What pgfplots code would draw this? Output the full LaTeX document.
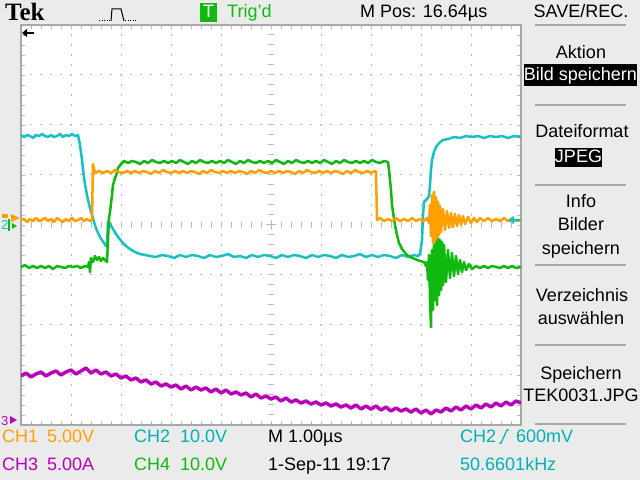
\documentclass[border=0pt]{standalone}
\usepackage{fontspec}
\setmainfont{Liberation Sans}
\newfontfamily\tekserif{Liberation Serif}
\usepackage{pgfplots}
\pgfplotsset{compat=1.18}
\usetikzlibrary{arrows.meta}
\definecolor{bgc}{HTML}{EBEBEB}
\definecolor{gridc}{HTML}{B8B8B8}
\definecolor{bordc}{HTML}{A8A8A8}
\definecolor{ch1}{HTML}{FFA000}
\definecolor{ch2}{HTML}{18C0C4}
\definecolor{ch2t}{HTML}{00B0B4}
\definecolor{ch3}{HTML}{B800B8}
\definecolor{ch4}{HTML}{10B810}
\newcommand\tf{\fontsize{18bp}{21bp}\selectfont}
\newcommand\mf{\fontsize{13bp}{15bp}\selectfont}

\begin{document}
\begin{tikzpicture}
\useasboundingbox (0,0) rectangle (640bp,480bp);
\fill[bgc] (0,0) rectangle (640bp,480bp);

% graticule (pixel coordinates, y downwards)
\begin{scope}[x=1bp,y=-1bp,yshift=480bp]
  \fill[white] (21,25) rectangle (521,425);
  \foreach \g in {71,121,171,221,321,371,421,471}
    \draw[gridc,line width=1bp,dash pattern=on 2bp off 8bp,dash phase=1bp] (\g,25) -- (\g,425);
  \foreach \g in {75,125,175,275,325,375}
    \draw[gridc,line width=1bp,dash pattern=on 2bp off 8bp,dash phase=1bp] (21,\g) -- (521,\g);
  \foreach \t in {35,45,...,415}
    \draw[gridc,line width=1bp] (268,\t) -- (274,\t);
  \foreach \t in {31,41,...,511}
    \draw[gridc,line width=1bp] (\t,222) -- (\t,228);
  \draw[gridc,line width=1bp] (266,225) -- (276,225) (271,220) -- (271,230);
\end{scope}

\begin{axis}[
    at={(21bp,55bp)}, anchor=south west,
    width=500bp, height=400bp, scale only axis,
    xmin=21, xmax=521, ymin=25, ymax=425, y dir=reverse,
    axis line style={draw=bordc, line width=2bp},
    xtick={21,71,...,521}, ytick={25,75,...,425},
    minor x tick num=4, minor y tick num=4,
    xticklabels={}, yticklabels={},
    tick align=inside, major tick length=4bp, minor tick length=4bp,
    every tick/.style={draw=gridc, line width=1bp},
]
% CH2 (cyan)
\addplot[ch2, line width=2.5bp, line join=round] coordinates {
(21,135)(24,137)(27,135)(30,136)(33,138)(36,135)(39,136)(42,134)(45,136)(48,137)
(51,135)(54,137)(57,136)(60,134)(63,137)(66,135)(69,136)(72,134)(75,136)(78,135)
(80,145)(82,160)(84,178)(86,190)(88,200)(90,208)(92,215)(94,222)(96,228)(98,233)
(100,237)(102,240)(104,243)(106,246)(107,245)(108,222)(110,224)(113,229)(116,234)
(119,238)(122,242)(126,246)(130,249)(135,252)(140,254)(145,255)(150,256)
(156,257)(162,255)(168,256)(174,258)(180,255)(186,257)(192,255)(198,256)(204,258)
(210,255)(216,257)(222,256)(228,254)(234,257)(240,256)(246,258)(252,255)(258,257)
(264,255)(270,256)(276,258)(282,255)(288,257)(294,255)(300,256)(306,258)(312,255)
(318,257)(324,255)(330,256)(336,258)(342,255)(348,257)(354,256)(360,254)(366,257)
(372,255)(378,257)(384,255)(390,256)(396,258)(402,255)(408,257)(414,255)(418,256)
(420,254)(422,240)(423,215)(424,202)(427,199)(429,196)(430,185)(431,170)(432,160)
(434,152)(436,147)(439,143)(443,140)(448,139)(454,137)(460,138)(466,136)(472,137)
(478,136)(484,138)(490,136)(496,137)(502,136)(508,138)(514,136)(521,137)
};
% CH3 (magenta)
\addplot[ch3, line width=3.5bp, line join=round] coordinates {
(21,376)(26,373)(31,377)(36,374)(41,372)(46,376)(51,373)(56,371)(61,375)(66,372)
(71,370)(76,374)(81,371)(86,368)(91,373)(96,370)(101,374)(106,372)(111,376)(116,374)
(121,378)(126,376)(131,380)(136,378)(141,382)(146,380)(151,384)(156,382)(161,386)
(166,384)(171,387)(176,385)(181,389)(186,386)(191,390)(196,387)(201,390)(206,388)
(211,392)(216,389)(221,393)(226,390)(231,394)(236,392)(241,395)(246,393)(251,397)
(256,394)(261,398)(266,396)(271,399)(276,397)(281,401)(286,398)(291,402)(296,400)
(301,403)(306,401)(311,404)(316,402)(321,405)(326,403)(331,406)(336,404)(341,407)
(346,405)(351,408)(356,405)(361,409)(366,406)(371,409)(376,406)(381,410)(386,407)
(391,411)(396,408)(401,411)(406,409)(411,412)(416,409)(421,413)(426,410)(431,414)
(436,410)(441,412)(446,408)(451,411)(456,407)(461,410)(466,406)(471,409)(476,405)
(481,408)(486,404)(491,407)(496,403)(501,406)(506,402)(511,405)(516,401)(521,403)
};
% CH4 (green)
\addplot[ch4, line width=2.5bp, line join=round] coordinates {
(21,267)(25,265)(29,268)(33,266)(37,268)(41,266)(45,268)(49,266)(53,269)(57,266)
(61,267)(65,268)(69,266)(73,267)(77,266)(81,268)(85,266)(88,267)(89,262)(90,272)
(91,258)(93,262)(95,256)(97,260)(99,257)(101,261)(103,258)(105,260)(107,262)
(108,240)(109,218)(110,212)(112,195)(113,185)(115,178)(116,176)
(118,168)(121,164)(124,161)(128,163)(132,161)(136,162)(140,164)(144,161)(148,163)
(152,160)(156,162)(160,163)(164,161)(168,163)(172,161)(176,163)(180,160)(184,162)
(188,164)(192,161)(196,163)(200,160)(204,162)(208,163)(212,161)(216,163)(220,161)
(224,163)(228,160)(232,162)(236,164)(240,161)(244,163)(248,160)(252,162)(256,163)
(260,161)(264,163)(268,161)(272,163)(276,160)(280,162)(284,164)(288,161)(292,163)
(296,160)(300,162)(304,163)(308,161)(312,163)(316,161)(320,163)(324,160)(328,162)
(332,164)(336,161)(340,163)(344,160)(348,162)(352,163)(356,161)(360,163)(364,161)
(368,163)(372,160)(376,162)(380,163)(384,161)(388,162)
(389,170)(391,190)(392,205)(393,212)(395,225)(397,235)(399,243)(402,249)(406,254)
(410,257)(415,259)(420,261)(424,262)(426,266)
(427,262)(428,280)(429,255)(430,300)(431,327)(432,250)(433,310)(434,245)(435,300)
(436,240)(437,305)(438,238)(439,295)(440,240)(441,290)(442,242)(443,285)(444,245)
(446,282)(448,250)(450,278)(452,253)(454,276)(456,256)(458,274)(460,260)(462,272)
(464,262)(466,270)(469,264)(472,269)(476,266)(480,268)(484,266)(488,268)(492,266)
(496,267)(500,268)(504,266)(508,268)(512,266)(516,268)(521,267)
};
% CH1 (orange)
\addplot[ch1, line width=2.5bp, line join=round] coordinates {
(21,220)(24,219)(27,222)(30,219)(33,221)(36,218)(39,221)(42,220)(45,218)(48,221)
(51,219)(54,222)(57,218)(60,220)(63,222)(66,219)(69,221)(72,218)(75,221)(78,220)
(81,218)(84,221)(87,219)(90,221)(92,220)
(93,164)(95,173)(99,171)(103,173)(107,171)(111,173)(115,170)(119,172)(123,173)
(127,171)(131,173)(135,171)(139,173)(143,171)(147,172)(151,174)(155,171)(159,173)
(163,170)(167,172)(171,173)(175,171)(179,173)(183,171)(187,173)(191,171)(195,172)
(199,174)(203,171)(207,173)(211,170)(215,172)(219,173)(223,171)(227,173)(231,171)
(235,173)(239,171)(243,172)(247,174)(251,171)(255,173)(259,170)(263,172)(267,173)
(271,171)(275,173)(279,171)(283,173)(287,171)(291,172)(295,174)(299,171)(303,173)
(307,170)(311,172)(315,173)(319,171)(323,173)(327,171)(331,173)(335,171)(339,172)
(343,174)(347,171)(351,173)(355,170)(359,172)(363,173)(367,171)(371,173)(375,171)
(376,172)
(377,220)(380,218)(384,221)(388,219)(392,221)(396,218)(400,221)(404,219)(408,221)
(412,218)(416,221)(420,219)(424,221)(427,218)(429,223)(430,205)(431,236)(432,195)
(433,243)(434,192)(435,241)(436,197)(437,238)(438,202)(439,235)(440,206)(441,232)
(443,209)(445,230)(447,211)(449,228)(451,213)(453,227)(455,214)(457,226)(459,215)
(461,225)(463,216)(465,224)(468,217)(471,223)(474,218)(477,222)(480,218)(484,221)
(488,218)(492,221)(496,219)(500,221)(504,218)(508,221)(512,219)(516,221)(521,220)
};
\end{axis}

% screen furniture (pixel coordinates, y downwards)
\begin{scope}[x=1bp,y=-1bp,yshift=480bp]
  % header
  \node[anchor=base west, inner sep=0] at (5,21) {\tekserif\bfseries\fontsize{25bp}{27bp}\selectfont Tek};
  \draw[black, line width=1bp, dash pattern=on 1bp off 1.5bp] (99,21) -- (111,21);
  \draw[black, line width=1bp] (111,21) -- (112,9) -- (121,9) -- (124,21);
  \draw[black, line width=1bp, dash pattern=on 1bp off 1.5bp] (125,21) -- (137,21);
  \fill[ch4] (200,3) rectangle (217,22);
  \node[anchor=base, inner sep=0, text=white] at (208.5,18) {\tf T};
  \node[anchor=base west, inner sep=0, text=ch4] at (227,18) {\tf Trig'd};
  \node[anchor=base west, inner sep=0] at (360,18) {\tf M Pos: 16.64µs};
  \node[anchor=base, inner sep=0] at (581,18) {\tf SAVE/REC.};

  % menu
  \foreach \s in {25,105,185,265,345,424}
    \draw[bordc, line width=2bp] (535,\s) -- (626,\s);
  \node[anchor=base, inner sep=0] at (581,59) {\tf Aktion};
  \fill[black] (524,64) rectangle (637,86);
  \node[anchor=base, inner sep=0, text=white] at (580.5,81) {\tf Bild speichern};
  \node[anchor=base, inner sep=0] at (582,138) {\tf Dateiformat};
  \fill[black] (555,148) rectangle (602,167);
  \node[anchor=base, inner sep=0, text=white] at (578.5,163) {\tf JPEG};
  \node[anchor=base, inner sep=0] at (581,208) {\tf Info};
  \node[anchor=base, inner sep=0] at (581,231) {\tf Bilder};
  \node[anchor=base, inner sep=0] at (581,255) {\tf speichern};
  \node[anchor=base, inner sep=0] at (582,302) {\tf Verzeichnis};
  \node[anchor=base, inner sep=0] at (581,325) {\tf auswählen};
  \node[anchor=base, inner sep=0] at (581,380) {\tf Speichern};
  \node[anchor=base, inner sep=0] at (581,402) {\tf TEK0031.JPG};

  % markers
  \draw[black, line width=1.5bp, -{Triangle[length=5bp,width=8bp]}] (34,33) -- (22,33);
  \draw[ch2, line width=1.5bp, -{Triangle[length=6bp,width=8bp]}] (521,220) -- (508,220);
  \fill[ch1] (2,214) rectangle (8,218);
  \node[anchor=base west, inner sep=0, text=ch2] at (1,230) {\mf 2};
  \fill[ch4] (8,219) rectangle (10,231);
  \fill[ch1] (11,214) -- (20,218) -- (11,222) -- cycle;
  \fill[ch4] (12,223) -- (17,226) -- (12,229) -- cycle;
  \node[anchor=base west, inner sep=0, text=ch3] at (1,426) {\mf 3};
  \fill[ch3] (10,416) -- (17,420) -- (10,424) -- cycle;

  % status lines
  \node[anchor=base west, inner sep=0, text=ch1] at (2,443) {\tf CH1};
  \node[anchor=base west, inner sep=0, text=ch1] at (47,443) {\tf 5.00V};
  \node[anchor=base west, inner sep=0, text=ch2t] at (134,443) {\tf CH2};
  \node[anchor=base west, inner sep=0, text=ch2t] at (180,443) {\tf 10.0V};
  \node[anchor=base west, inner sep=0] at (268,443) {\tf M 1.00µs};
  \node[anchor=base west, inner sep=0, text=ch2t] at (460,443) {\tf CH2};
  \draw[ch2t, line width=1.2bp] (499,443) -- (501,443) -- (507,430) -- (509,430);
  \node[anchor=base west, inner sep=0, text=ch2t] at (516,443) {\tf 600mV};
  \node[anchor=base west, inner sep=0, text=ch3] at (2,471) {\tf CH3};
  \node[anchor=base west, inner sep=0, text=ch3] at (47,471) {\tf 5.00A};
  \node[anchor=base west, inner sep=0, text=ch4] at (134,471) {\tf CH4};
  \node[anchor=base west, inner sep=0, text=ch4] at (180,471) {\tf 10.0V};
  \node[anchor=base west, inner sep=0] at (268,471) {\tf 1-Sep-11 19:17};
  \node[anchor=base west, inner sep=0, text=ch2t] at (460,471) {\tf 50.6601kHz};
\end{scope}
\end{tikzpicture}
\end{document}
